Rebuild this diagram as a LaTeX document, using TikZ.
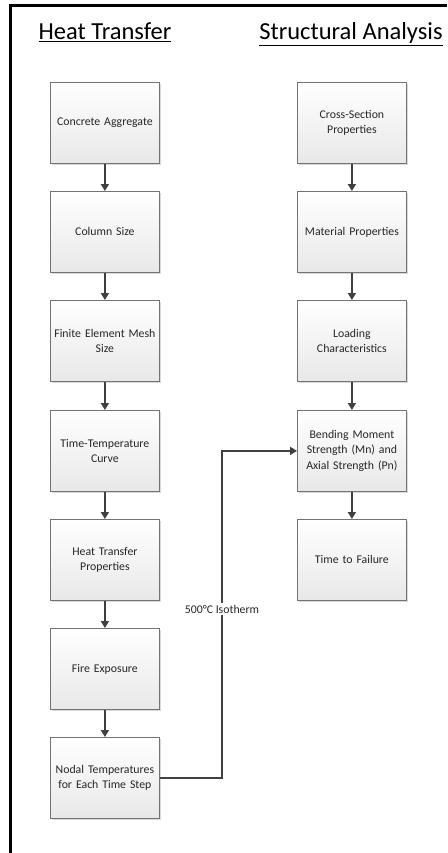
\documentclass[tikz,border=0pt]{standalone}
\usepackage{fontspec}
\setmainfont{Carlito}
\usetikzlibrary{arrows.meta,shadows}
\begin{document}
\begin{tikzpicture}[x=1pt,y=-1pt,
  box/.style={draw=black!55, line width=0.8pt, top color=white, bottom color=black!9,
    minimum width=109pt, minimum height=81pt, inner sep=2pt, text width=105pt, align=center,
    font=\fontsize{11.8}{15.5}\selectfont, text=black!85, anchor=north west,
    drop shadow={shadow xshift=1.5pt, shadow yshift=-1.5pt, fill=black!25, opacity=0.6}},
  conn/.style={draw=black!75, line width=1.8pt, -{Triangle[length=7pt,width=8pt]}},
  head/.style={font=\fontsize{24.5}{28}\selectfont, anchor=base}]
\useasboundingbox (0,0) rectangle (447,853);
\draw[line width=2.5pt] (10.5,853) -- (10.5,5.3) -- (447,5.3);

\node[head] (h1) at (105,40) {\underline{Heat Transfer}};
\node[head] (h2) at (351,40) {\underline{Structural Analysis}};

\node[box] (l1) at (50,82)  {Concrete Aggregate};
\node[box] (l2) at (50,191) {Column Size};
\node[box] (l3) at (50,300) {Finite Element Mesh\\Size};
\node[box] (l4) at (50,410) {Time-Temperature\\Curve};
\node[box] (l5) at (50,519) {Heat Transfer\\Properties};
\node[box] (l6) at (50,628) {Fire Exposure};
\node[box] (l7) at (50,737) {Nodal Temperatures\\for Each Time Step};

\node[box] (r1) at (297,82)  {Cross-Section\\Properties};
\node[box] (r2) at (297,191) {Material Properties};
\node[box] (r3) at (297,300) {Loading\\Characteristics};
\node[box] (r4) at (297,410) {Bending Moment\\Strength (Mn) and\\Axial Strength (Pn)};
\node[box] (r5) at (297,519) {Time to Failure};

\foreach \a/\b in {l1/l2,l2/l3,l3/l4,l4/l5,l5/l6,l6/l7,r1/r2,r2/r3,r3/r4,r4/r5}
  \draw[conn] (\a) -- (\b);

\coordinate (bend) at (222,0);
\draw[conn] (l7.east) -| (bend |- r4.west) -- (r4.west);
\node[fill=white, inner sep=1.5pt, font=\fontsize{11.8}{15}\selectfont, text=black!85] (lab) at (222,609) {500°C Isotherm};
\end{tikzpicture}
\end{document}
